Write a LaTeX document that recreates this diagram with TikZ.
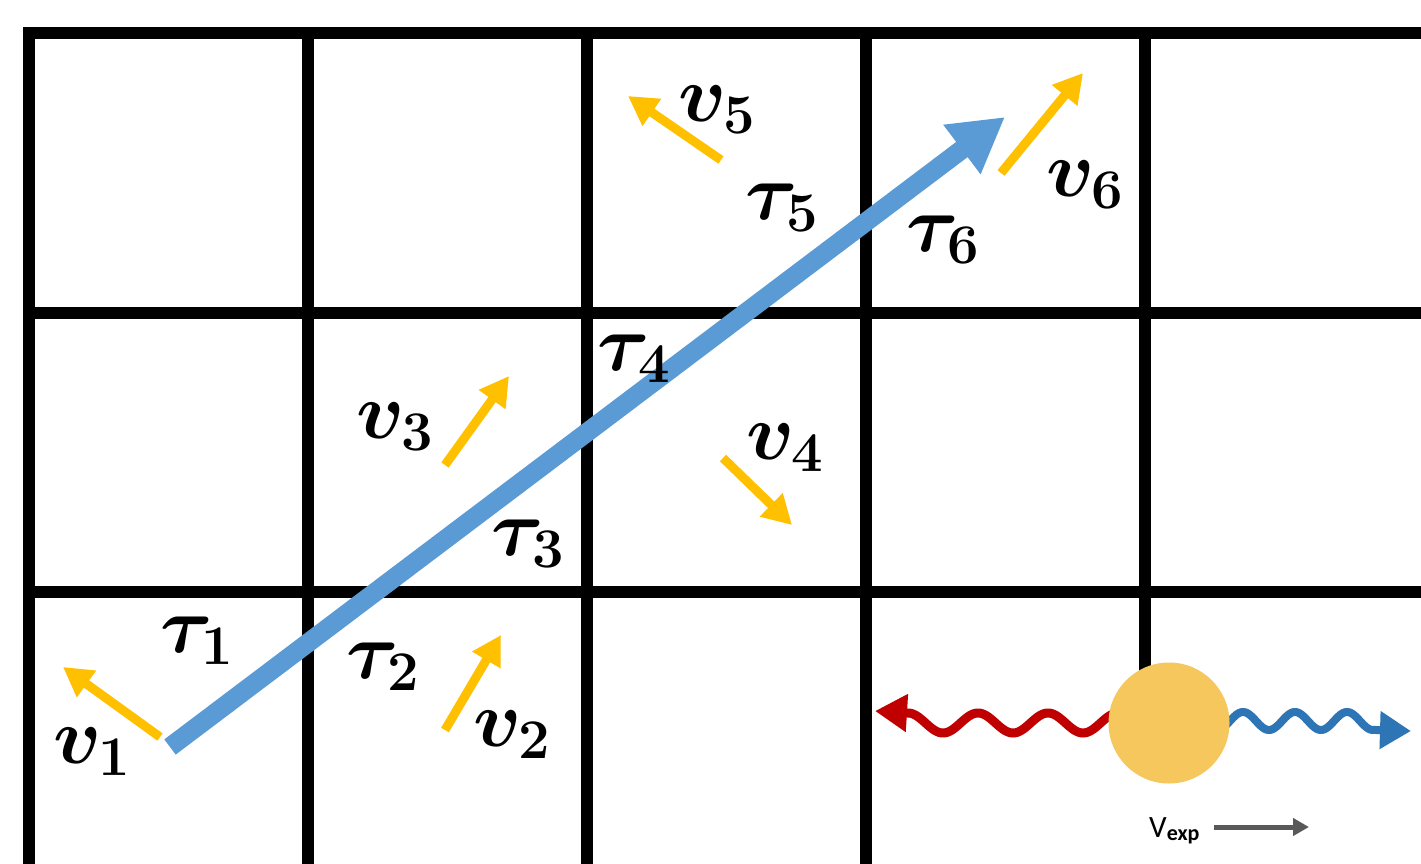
\RequirePackage{fix-cm}
\documentclass[tikz,border=0pt]{standalone}
\usepackage{fontspec}
\newfontfamily\calib{Carlito}
\usetikzlibrary{arrows.meta}
\definecolor{yel}{HTML}{FFC000}
\definecolor{mainblue}{HTML}{5B9BD5}
\definecolor{wavered}{HTML}{C00000}
\definecolor{waveblue}{HTML}{2E75B6}
\definecolor{ball}{HTML}{F6C75C}
\definecolor{vgray}{HTML}{595959}
\begin{document}
\begin{tikzpicture}[x=1pt,y=-1pt,
  gridline/.style={line width=12pt, black},
  velarrow/.style={yel, line width=9pt, -{Triangle[length=29pt,width=31pt]}},
  lab/.style={inner sep=0pt, font=\fontsize{80}{80}\selectfont\boldmath},
  wave/.style={line width=9pt, line join=round},
]
\useasboundingbox (0,0) rectangle (1421,864);
\clip (0,0) rectangle (1421,864);
\fill[white] (0,0) rectangle (1421,864);
% grid
\foreach \x in {29,307.5,587,866} \draw[gridline] (\x,27) -- (\x,880);
\draw[gridline] (1145,27) -- (1145,700);
\foreach \y in {33,312.5,592} \draw[gridline] (23,\y) -- (1440,\y);
% main trajectory
\coordinate (bs) at (170,747);
\coordinate (be) at (1005,117);
\draw[mainblue, line width=19pt, -{Triangle[length=54pt,width=58pt]}] (bs) -- (be);
% velocity arrows
\coordinate (v1t) at (160,737);  \coordinate (v1h) at (63,667);
\coordinate (v2t) at (445,730);  \coordinate (v2h) at (501,635);
\coordinate (v3t) at (445,465);  \coordinate (v3h) at (509,376);
\coordinate (v4t) at (723,458);  \coordinate (v4h) at (792,525);
\coordinate (v5t) at (721,160);  \coordinate (v5h) at (628,96);
\coordinate (v6t) at (1001,173); \coordinate (v6h) at (1083,73);
\foreach \i in {1,...,6} \draw[velarrow] (v\i t) -- (v\i h);
% labels
\node[lab] (lv1) at (92,752) {$v_1$};
\node[lab] (lt1) at (197,641) {$\tau_1$};
\node[lab] (lt2) at (383,667) {$\tau_2$};
\node[lab] (lv2) at (512,735) {$v_2$};
\node[lab] (lv3) at (395,427) {$v_3$};
\node[lab] (lt3) at (528,544) {$\tau_3$};
\node[lab] (lt4) at (634,359) {$\tau_4$};
\node[lab] (lv4) at (785,448) {$v_4$};
\node[lab] (lv5) at (717,110) {$v_5$};
\node[lab] (lt5) at (782,208) {$\tau_5$};
\node[lab] (lt6) at (943,240) {$\tau_6$};
\node[lab] (lv6) at (1085,185) {$v_6$};
% photons
\coordinate (rt) at (875,711);
\coordinate (blt) at (1411,731);
\draw[wavered, wave, -{Triangle[length=32pt,width=36pt]}]
  plot[domain=1112:910, samples=140] (\x, {723+10*cos(((\x-1083)/70)*360)}) -- (rt);
\draw[waveblue, wave, line width=8pt, -{Triangle[length=31pt,width=36pt]}]
  plot[domain=1225:1374, samples=120] (\x, {721-9*cos(((\x-1243)/52)*360)}) -- (blt);
% ball
\node[circle, fill=ball, minimum size=121pt, inner sep=0pt] (ballnode) at (1169,723) {};
% V_exp
\node[anchor=base west, inner sep=0pt, font=\calib\fontsize{31}{31}\selectfont, text=black] (vexp) at (1149,837)
  {V\raisebox{-3pt}{\fontsize{22}{22}\selectfont\bfseries exp}};
\coordinate (ga) at (1214,827);
\coordinate (gb) at (1309,827);
\draw[vgray, line width=5pt, -{Triangle[length=16pt,width=17pt]}] (ga) -- (gb);
\end{tikzpicture}
\end{document}
